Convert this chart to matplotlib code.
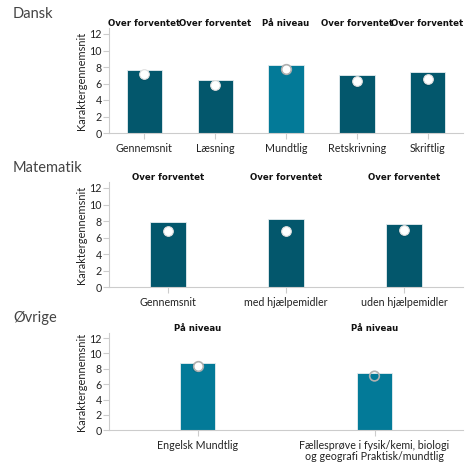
import matplotlib
matplotlib.use("Agg")
import matplotlib.pyplot as plt
from matplotlib.transforms import blended_transform_factory

plt.rcParams['font.family'] = ['Lato', 'DejaVu Sans']

dansk_cats = ["Gennemsnit", "Læsning", "Mundtlig", "Retskrivning", "Skriftlig"]
dansk_bars = [7.6, 6.4, 8.2, 7.0, 7.45]
dansk_dots = [7.15, 5.85, 7.8, 6.3, 6.5]
dansk_status = ["Over forventet", "Over forventet", "På niveau", "Over forventet", "Over forventet"]

mat_cats = ["Gennemsnit", "med hjælpemidler", "uden hjælpemidler"]
mat_bars = [7.9, 8.2, 7.7]
mat_dots = [6.85, 6.85, 6.9]
mat_status = ["Over forventet", "Over forventet", "Over forventet"]

ovr_cats = ["Engelsk Mundtlig", "Fællesprøve i fysik/kemi, biologi\nog geografi Praktisk/mundtlig"]
ovr_bars = [8.7, 7.4]
ovr_dots = [8.35, 7.05]
ovr_status = ["På niveau", "På niveau"]

yticks = [0, 2, 4, 6, 8, 10, 12]
titles = ["Dansk", "Matematik", "Øvrige"]
ylabel = "Karaktergennemsnit"

DARK = "#03576c"
LIGHT = "#037a98"
W, H = 465, 462

fig = plt.figure(figsize=(W / 100, H / 100), dpi=100)

panels = [
    (dansk_cats, dansk_bars, dansk_dots, dansk_status, 133.0, 8.25, 0.5, 14),
    (mat_cats, mat_bars, mat_dots, mat_status, 287.3, 8.28, 0.3, 168),
    (ovr_cats, ovr_bars, ovr_dots, ovr_status, 430.3, 7.69, 0.2, 318),
]
YTOP = 12.7
x0, x1 = 109, 463

for i, (cats, bars, dots, status, zero_px, ppu, bw, ty) in enumerate(panels):
    top_px = zero_px - YTOP * ppu
    ax = fig.add_axes([x0 / W, 1 - zero_px / H, (x1 - x0) / W, (zero_px - top_px) / H])
    n = len(cats)
    xs = list(range(n))
    colors = [LIGHT if s == "På niveau" else DARK for s in status]
    ax.bar(xs, bars, width=bw, color=colors, edgecolor="#e6eef0", linewidth=0.6, zorder=2)
    for j in xs:
        hollow = (i == 2 and j == 1)
        niv = status[j] == "På niveau"
        if not hollow:
            ax.scatter([j], [dots[j] - 0.12], s=62, facecolor="#000000", alpha=0.12,
                       edgecolor="none", zorder=3)
        ax.scatter([j], [dots[j]], s=48, facecolor="none" if hollow else "white",
                   edgecolor="#b0b0b0" if niv else "#e0e0e0",
                   linewidth=1.2 if niv else 0.8, zorder=4)
    ax.set_xlim(-0.5, n - 0.5)
    ax.set_ylim(0, YTOP)
    ax.set_yticks(yticks)
    ax.set_xticks(xs)
    ax.set_xticklabels(cats, fontsize=7.7, color="#222222", linespacing=1.0)
    ax.tick_params(axis='y', labelsize=7.7, labelcolor="#222222", length=4, color="#cccccc", pad=1)
    ax.tick_params(axis='x', length=4, color="#cccccc", pad=3)
    for s in ["top", "right"]:
        ax.spines[s].set_visible(False)
    ax.spines["left"].set_color("#cccccc")
    ax.spines["bottom"].set_color("#cccccc")
    ax.spines["left"].set_linewidth(0.8)
    ax.spines["bottom"].set_linewidth(0.8)
    ax.set_ylabel(ylabel, fontsize=7.9, color="#222222", labelpad=2)
    trans = blended_transform_factory(ax.transData, ax.transAxes)
    for j, s in enumerate(status):
        ax.text(j, 1.0, s, transform=trans, ha="center", va="bottom",
                fontsize=6.2, fontweight="bold", color="#111111", family=["DejaVu Sans"])
    fig.text(13 / W, 1 - ty / H, titles[i], fontsize=10.5, color="#444444", va="center", ha="left")

fig.savefig("out.png", dpi=100)
